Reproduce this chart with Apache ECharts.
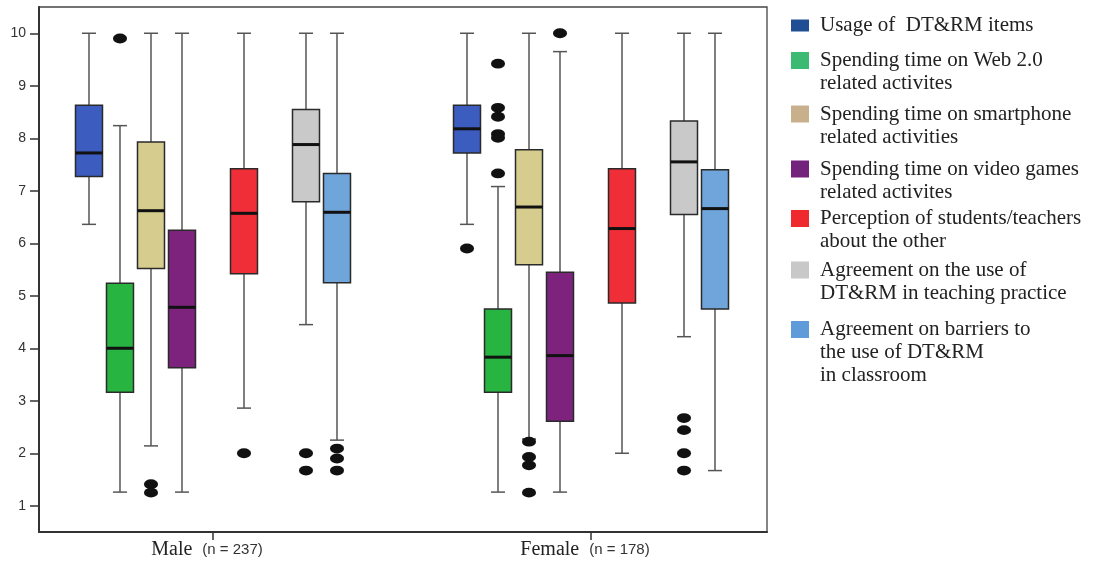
<!DOCTYPE html>
<html>
<head>
<meta charset="utf-8">
<script src="https://cdn.jsdelivr.net/npm/echarts@6/dist/echarts.min.js"></script>
<style>
  html, body { margin: 0; background: #fff; }
  #chart { width: 1107px; height: 565px; }
</style>
</head>
<body>
<div id="chart"></div>
<script>
// groups on the x axis
const groups = ['Male', 'Female'];
const groupN = [237, 178];

// legend text, one array of lines per measure
const measureLabels = [
  ['Usage of  DT&RM items'],
  ['Spending time on Web 2.0', 'related activites'],
  ['Spending time on smartphone', 'related activities'],
  ['Spending time on video games', 'related activites'],
  ['Perception of students/teachers', 'about the other'],
  ['Agreement on the use of', 'DT&RM in teaching practice'],
  ['Agreement on barriers to', 'the use of DT&RM', 'in classroom']
];

// [min, q1, median, q3, max] per measure
const maleStats = [
  [6.36, 7.27, 7.72, 8.63, 10],
  [1.26, 3.16, 4.00, 5.24, 8.24],
  [2.14, 5.52, 6.62, 7.93, 10],
  [1.26, 3.63, 4.78, 6.25, 10],
  [2.86, 5.42, 6.57, 7.42, 10],
  [4.45, 6.79, 7.88, 8.55, 10],
  [2.25, 5.25, 6.59, 7.33, 10]
];
const femaleStats = [
  [6.36, 7.72, 8.18, 8.63, 10],
  [1.26, 3.16, 3.83, 4.75, 7.08],
  [2.27, 5.59, 6.69, 7.78, 10],
  [1.26, 2.61, 3.86, 5.45, 9.65],
  [2.00, 4.86, 6.28, 7.42, 10],
  [4.22, 6.55, 7.55, 8.33, 10],
  [1.67, 4.75, 6.66, 7.40, 10]
];
const maleOutliers = [
  [],
  [9.9],
  [1.41, 1.25],
  [],
  [2.0],
  [2.0, 1.67],
  [2.09, 1.9, 1.67]
];
const femaleOutliers = [
  [5.9],
  [9.42, 8.58, 8.41, 8.08, 8.01, 7.33],
  [2.22, 1.93, 1.77, 1.25],
  [10.0],
  [],
  [2.67, 2.44, 2.0, 1.67],
  []
];
const yTicks = [1, 2, 3, 4, 5, 6, 7, 8, 9, 10];

// look
const boxColors = ['#3c5cc0', '#27b440', '#d6cc8e', '#7d237e', '#ef2e37', '#c9c9c9', '#6fa5da'];
const legendColors = ['#1f4e93', '#3dba72', '#c8b08c', '#74237c', '#ee2a2e', '#c8c8c8', '#5f9bd8'];
const slots = [0, 1, 2, 3, 5, 7, 8]; // 9 slots per group, 4 is the centre
const SLOT_PX = 31;
const BOX_W = 27;
const CAP_W = 14;
const LINE_H = 23;
const legendCenters = [25.5, 60.5, 114, 169, 218.5, 270, 329.5];

function boxRenderer(offset) {
  return function (params, api) {
    const gx = api.value(0);
    const x = api.coord([gx, 0])[0] + offset;
    const y = k => api.coord([gx, api.value(k)])[1];
    const yMin = y(1), yQ1 = y(2), yMed = y(3), yQ3 = y(4), yMax = y(5);
    const hw = BOX_W / 2, cw = CAP_W / 2;
    const whisker = { stroke: '#555', lineWidth: 1.5 };
    return {
      type: 'group',
      children: [
        { type: 'line', shape: { x1: x, y1: yMax, x2: x, y2: yQ3 }, style: whisker },
        { type: 'line', shape: { x1: x, y1: yQ1, x2: x, y2: yMin }, style: whisker },
        { type: 'line', shape: { x1: x - cw, y1: yMax, x2: x + cw, y2: yMax }, style: whisker },
        { type: 'line', shape: { x1: x - cw, y1: yMin, x2: x + cw, y2: yMin }, style: whisker },
        {
          type: 'rect',
          shape: { x: x - hw, y: yQ3, width: BOX_W, height: yQ1 - yQ3 },
          style: { fill: api.visual('color'), stroke: '#2a2a2a', lineWidth: 1.5 }
        },
        { type: 'line', shape: { x1: x - hw, y1: yMed, x2: x + hw, y2: yMed }, style: { stroke: '#111', lineWidth: 3 } }
      ]
    };
  };
}

function dotRenderer(offset) {
  return function (params, api) {
    const p = api.coord([api.value(0), api.value(1)]);
    return {
      type: 'circle',
      x: p[0] + offset,
      y: p[1],
      scaleY: 0.7,
      shape: { cx: 0, cy: 0, r: 7 },
      style: { fill: '#111' }
    };
  };
}

const series = [];
measureLabels.forEach((lines, i) => {
  const name = lines.join(' ');
  const offset = (slots[i] - 4) * SLOT_PX;
  series.push({
    type: 'custom',
    name: name,
    renderItem: boxRenderer(offset),
    itemStyle: { color: boxColors[i] },
    encode: { x: 0, y: [1, 2, 3, 4, 5] },
    data: [[1].concat(maleStats[i]), [2].concat(femaleStats[i])]
  });
  const dots = maleOutliers[i].map(v => [1, v]).concat(femaleOutliers[i].map(v => [2, v]));
  series.push({
    type: 'custom',
    name: name,
    renderItem: dotRenderer(offset),
    itemStyle: { color: boxColors[i] },
    encode: { x: 0, y: 1 },
    data: dots
  });
});

// one legend per entry so the square sits beside the first line of text;
// blank lines in front keep the first real line centred on the square
const legends = measureLabels.map((lines, i) => {
  const n = lines.length;
  return {
    data: [{ name: lines.join(' '), icon: 'rect', itemStyle: { color: legendColors[i] } }],
    orient: 'vertical',
    left: 791,
    top: legendCenters[i] - LINE_H * (2 * n - 1) / 2,
    padding: 0,
    itemWidth: 18,
    itemHeight: i === 0 ? 12 : 17,
    formatter: () => '\n'.repeat(n - 1) + lines.join('\n'),
    textStyle: {
      fontFamily: 'Liberation Serif',
      fontSize: 21,
      lineHeight: LINE_H,
      color: '#222',
      padding: [0, 0, 0, 6]
    }
  };
});

const chart = echarts.init(document.getElementById('chart'));
chart.setOption({
  animation: false,
  backgroundColor: '#fff',
  legend: legends,
  grid: {
    left: 39, right: 340, top: 7, bottom: 33,
    show: true, borderColor: '#444', borderWidth: 1.3, backgroundColor: 'transparent'
  },
  xAxis: {
    type: 'value',
    min: 0.5397,
    max: 2.4656,
    splitLine: { show: false },
    axisLine: { lineStyle: { color: '#333', width: 2 } },
    axisTick: { customValues: [1, 2], length: 8, lineStyle: { color: '#333', width: 1.5 } },
    axisLabel: {
      customValues: [1, 2],
      margin: 8,
      padding: [0, 12, 0, 0],
      formatter: v => {
        const i = Math.round(v) - 1;
        return '{g|' + groups[i] + '}   {n|(n = ' + groupN[i] + ')}';
      },
      rich: {
        g: { fontFamily: 'Liberation Serif', fontSize: 20, color: '#222' },
        n: { fontFamily: 'Liberation Sans', fontSize: 15, color: '#333' }
      }
    }
  },
  yAxis: {
    type: 'value',
    min: 0.5,
    max: 10.5,
    splitLine: { show: false },
    axisLine: { show: true, lineStyle: { color: '#333', width: 2 } },
    axisTick: { show: true, customValues: yTicks, length: 9, lineStyle: { color: '#333', width: 1.5 } },
    axisLabel: {
      customValues: yTicks,
      margin: 13,
      fontFamily: 'Liberation Sans',
      fontSize: 14,
      color: '#333'
    }
  },
  series: series
});
</script>
</body>
</html>
